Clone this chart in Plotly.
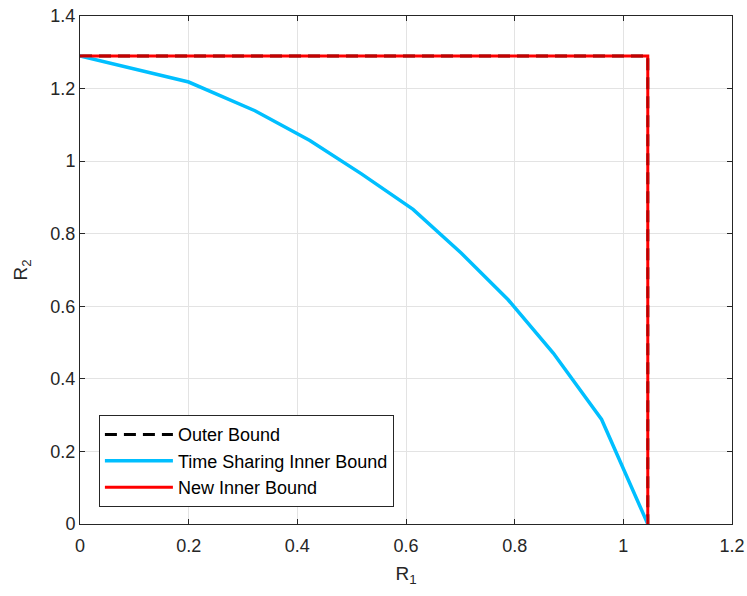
import plotly.graph_objects as go

# Data
outer_r1 = [0.0, 1.045, 1.045]
outer_r2 = [1.29, 1.29, 0.0]

ts_r1 = [0.0, 0.20, 0.322, 0.423, 0.518, 0.613, 0.702, 0.788, 0.871, 0.960, 1.045]
ts_r2 = [1.29, 1.218, 1.139, 1.057, 0.965, 0.867, 0.746, 0.618, 0.471, 0.288, 0.0]

new_r1 = [0.0, 1.045, 1.045]
new_r2 = [1.29, 1.29, 0.0]

x_ticks = [0, 0.2, 0.4, 0.6, 0.8, 1, 1.2]
y_ticks = [0, 0.2, 0.4, 0.6, 0.8, 1, 1.2, 1.4]

names = ["Outer Bound", "Time Sharing Inner Bound", "New Inner Bound"]

FONT = "Liberation Sans, Arial, Helvetica, sans-serif"
AX = "#262626"

fig = go.Figure()
fig.add_trace(go.Scatter(x=outer_r1, y=outer_r2, mode="lines", name=names[0],
                         legendgroup="a",
                         line=dict(color="black", width=3, dash="12px,7px")))
fig.add_trace(go.Scatter(x=ts_r1, y=ts_r2, mode="lines", name=names[1],
                         legendgroup="b",
                         line=dict(color="#00BFFF", width=3.5)))
fig.add_trace(go.Scatter(x=new_r1, y=new_r2, mode="lines", name=names[2],
                         legendgroup="c",
                         line=dict(color="#FF0000", width=3)))
# faint overlay of the dashed outer bound on top of the red line
fig.add_trace(go.Scatter(x=outer_r1, y=outer_r2, mode="lines", showlegend=False,
                         hoverinfo="skip", opacity=0.3,
                         line=dict(color="black", width=1.5, dash="12px,7px")))

axis_common = dict(
    showline=True, linecolor=AX, linewidth=1, mirror="ticks",
    ticks="inside", ticklen=5, tickcolor=AX, tickwidth=1,
    showgrid=True, gridcolor="#e3e3e3", gridwidth=1,
    zeroline=False, automargin=False,
    tickfont=dict(family=FONT, size=18, color=AX),
)

fig.update_xaxes(range=[0, 1.2], tickvals=x_ticks, ticktext=[str(v) for v in x_ticks],
                 ticklabelstandoff=5,
                 title=dict(text="R<sub>1</sub>", font=dict(family=FONT, size=19, color=AX),
                            standoff=12),
                 **axis_common)
fig.update_yaxes(range=[0, 1.4], tickvals=y_ticks, ticktext=[str(v) for v in y_ticks],
                 title=dict(text="R<sub>2</sub>", font=dict(family=FONT, size=19, color=AX),
                            standoff=17),
                 **axis_common)

fig.update_layout(
    width=747, height=596,
    margin=dict(l=80, r=15, t=16, b=72),
    plot_bgcolor="white", paper_bgcolor="white",
    font=dict(family=FONT, size=18, color="black"),
    legend=dict(x=0.029, y=0.033, xanchor="left", yanchor="bottom",
                bgcolor="white", bordercolor=AX, borderwidth=1,
                font=dict(family=FONT, size=18, color="black"),
                tracegroupgap=4, traceorder="normal", itemwidth=68),
    showlegend=True,
)

fig.write_html("out.html", config={"displayModeBar": False},
               post_script="document.body.style.margin='0';")
